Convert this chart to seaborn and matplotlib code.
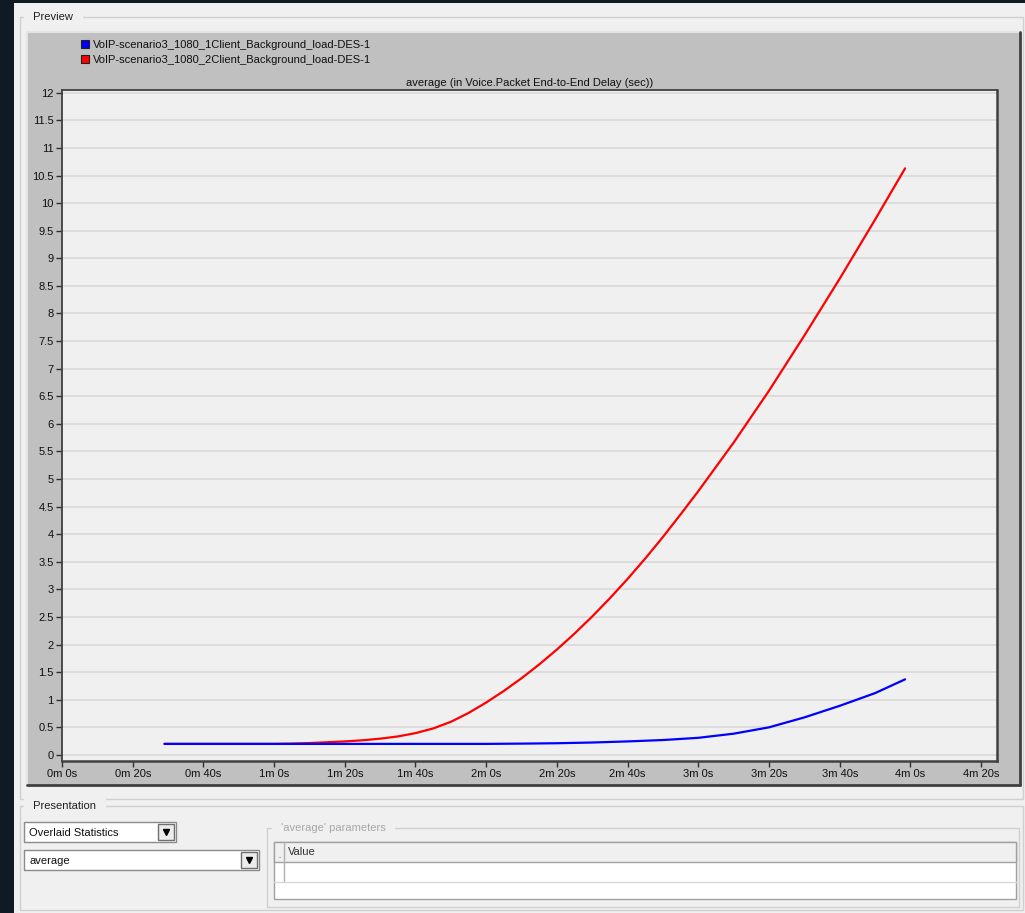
import pandas as pd
import matplotlib.pyplot as plt
import seaborn as sns
from matplotlib.patches import Rectangle
from matplotlib.ticker import FuncFormatter, MultipleLocator

# ---- data ----
series_names = ["VoIP-scenario3_1080_1Client_Background_load-DES-1",
                "VoIP-scenario3_1080_2Client_Background_load-DES-1"]
series_colors = ["#0000ff", "#ff0000"]

time_1client = [29, 40, 60, 80, 100, 120, 130, 140, 150, 160, 170, 180,
                190, 200, 210, 220, 230, 238.5]
delay_1client = [0.2, 0.2, 0.2, 0.2, 0.2, 0.2, 0.205, 0.212, 0.225, 0.245,
                 0.27, 0.31, 0.385, 0.5, 0.68, 0.89, 1.12, 1.37]

time_2client = [29, 40, 50, 60, 65, 70, 75, 80, 85, 90, 95, 100, 105, 110,
                115, 120, 125, 130, 135, 140, 145, 150, 155, 160, 165, 170,
                175, 180, 190, 200, 210, 220, 230, 238.5]
delay_2client = [0.2, 0.2, 0.2, 0.2, 0.205, 0.215, 0.23, 0.245, 0.265, 0.295,
                 0.335, 0.395, 0.48, 0.6, 0.76, 0.95, 1.16, 1.39, 1.64, 1.91,
                 2.2, 2.51, 2.84, 3.19, 3.56, 3.95, 4.36, 4.78, 5.66, 6.6,
                 7.6, 8.63, 9.7, 10.63]

chart_title = "average (in Voice.Packet End-to-End Delay (sec))"

df = pd.concat([
    pd.DataFrame({"time": time_1client, "delay": delay_1client, "scenario": series_names[0]}),
    pd.DataFrame({"time": time_2client, "delay": delay_2client, "scenario": series_names[1]}),
])

sns.set_style("white")
plt.rcParams["font.family"] = ["Liberation Sans", "DejaVu Sans"]

fig = plt.figure(figsize=(10.25, 9.13), dpi=100, facecolor="#0f1a25")

# background "window" drawn in pixel coordinates
bg = fig.add_axes([0, 0, 1, 1], zorder=0)
bg.set_xlim(0, 1025)
bg.set_ylim(913, 0)
bg.axis("off")

def box(x, y, w, h, fc="none", ec="none", lw=1, **kw):
    bg.add_patch(Rectangle((x, y), w, h, facecolor=fc, edgecolor=ec, linewidth=lw, **kw))

box(14, 3, 1011, 910, fc="#f0f0f0")
# Preview group
box(20, 17, 1003, 782, ec="#d0d0d0")
bg.text(30, 17, " Preview ", fontsize=8, va="center", ha="left",
        color="#202020", backgroundcolor="#f0f0f0")
# grey chart panel with 3D border
box(27, 32, 993, 753, fc="#c0c0c0")
bg.plot([27, 1020], [32, 32], color="#e4e4e4", lw=1.5)
bg.plot([27, 27], [32, 785], color="#e4e4e4", lw=1.5)
bg.plot([1020, 1020], [32, 785], color="#404040", lw=2)
bg.plot([27, 1020], [785, 785], color="#404040", lw=2)

# legend squares
for i, (name, col) in enumerate(zip(series_names, series_colors)):
    yy = 45 + 15 * i
    box(81, yy - 4.5, 8, 8, fc=col, ec="#202020", lw=0.8)
    bg.text(93, yy, name, fontsize=8, va="center", ha="left", color="#101010")

# Presentation group
box(20, 806, 1003, 104, ec="#d0d0d0")
bg.text(30, 806, " Presentation ", fontsize=8, va="center", ha="left",
        color="#202020", backgroundcolor="#f0f0f0")
for (x, y, w, label) in [(24, 822, 152, "Overlaid Statistics"), (24, 850, 235, "average")]:
    box(x, y, w, 20, fc="white", ec="#8a8a8a")
    bg.text(x + 5, y + 10.5, label, fontsize=8, va="center", ha="left", color="#101010")
    box(x + w - 18, y + 2, 16, 16, fc="#ececec", ec="#707070")
    bg.plot([x + w - 10], [y + 10.5], marker="v", color="black", markersize=4)
box(267, 828, 752, 79, ec="#d0d0d0")
bg.text(278, 828, " 'average' parameters ", fontsize=8, va="center", ha="left",
        color="#a8a8a8", backgroundcolor="#f0f0f0")
box(274, 842, 742, 57, fc="white", ec="#a0a0a0")
box(274, 842, 742, 20, fc="#f0f0f0", ec="#a0a0a0")
bg.plot([284, 284], [842, 882], color="#b0b0b0", lw=1)
bg.plot([274, 1016], [882, 882], color="#d8d8d8", lw=1)
bg.text(288, 852, "Value", fontsize=8, va="center", ha="left", color="#303030")
bg.text(277, 856, "..", fontsize=6, va="center", ha="left", color="#808080")

# ---- the chart itself ----
ax = fig.add_axes([62 / 1025, 1 - 761 / 913, 935 / 1025, 671 / 913], zorder=2)
ax.set_facecolor("#f0f0f0")
palette = dict(zip(series_names, series_colors))
sns.lineplot(data=df, x="time", y="delay", hue="scenario",
             hue_order=[series_names[1], series_names[0]], palette=palette,
             linewidth=1.6, legend=False, ax=ax)

ax.set_xlim(0, 264.5)
ax.set_ylim(-0.11, 12.05)
ax.xaxis.set_major_locator(MultipleLocator(20))
ax.yaxis.set_major_locator(MultipleLocator(0.5))
ax.xaxis.set_major_formatter(FuncFormatter(lambda v, p: f"{int(v // 60)}m {int(v % 60)}s"))
ax.yaxis.set_major_formatter(FuncFormatter(lambda v, p: f"{v:g}"))
ax.grid(axis="y", color="#d9d9d9", linewidth=1.2)
ax.grid(axis="x", visible=False)
ax.set_axisbelow(True)
ax.tick_params(axis="both", direction="out", length=4, width=1, color="#303030",
               labelsize=8, labelcolor="#101010", pad=2)
ax.tick_params(axis="x", bottom=True)
ax.tick_params(axis="y", left=True)
ax.set_xlabel("")
ax.set_ylabel("")
ax.set_title(chart_title, fontsize=8, pad=3, color="#101010")
for side, sp in ax.spines.items():
    sp.set_visible(True)
    sp.set_color("#404040")
    sp.set_linewidth(1.8 if side in ("bottom", "right") else 1.3)

fig.savefig("out.png", dpi=100, facecolor=fig.get_facecolor())
